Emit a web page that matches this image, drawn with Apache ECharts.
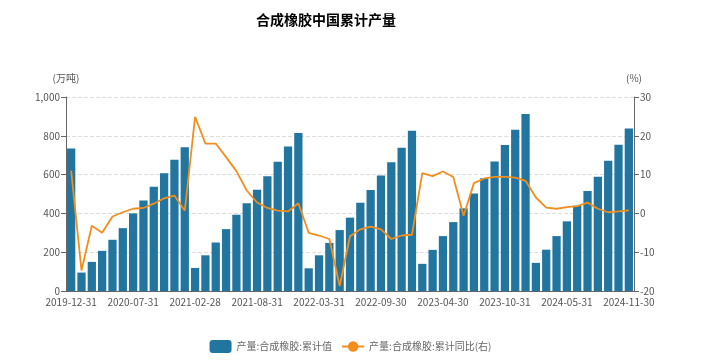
<!DOCTYPE html>
<html><head><meta charset="utf-8">
<script src="https://cdn.jsdelivr.net/npm/echarts@6/dist/echarts.min.js"></script>
<style>html,body{margin:0;padding:0;background:#fff}#c{width:701px;height:363px}</style>
</head><body><div id="c"></div>
<script>
const categories = ["2019-12-31","2020-02-29","2020-03-31","2020-04-30","2020-05-31","2020-06-30","2020-07-31","2020-08-31","2020-09-30","2020-10-31","2020-11-30","2020-12-31",
"2021-02-28","2021-03-31","2021-04-30","2021-05-31","2021-06-30","2021-07-31","2021-08-31","2021-09-30","2021-10-31","2021-11-30","2021-12-31",
"2022-02-28","2022-03-31","2022-04-30","2022-05-31","2022-06-30","2022-07-31","2022-08-31","2022-09-30","2022-10-31","2022-11-30","2022-12-31",
"2023-02-28","2023-03-31","2023-04-30","2023-05-31","2023-06-30","2023-07-31","2023-08-31","2023-09-30","2023-10-31","2023-11-30","2023-12-31",
"2024-02-29","2024-03-31","2024-04-30","2024-05-31","2024-06-30","2024-07-31","2024-08-31","2024-09-30","2024-10-31","2024-11-30"];
const cumValue = [734,95,150,207,264,324,400,466,538,607,676,741,
119,184,250,319,393,452,522,591,666,745,814,
117,184,248,314,378,455,521,595,664,738,826,
140,212,283,355,426,502,581,667,752,831,912,
145,213,283,359,440,515,589,671,754,837];
const cumYoY = [11.0,-14.7,-3.2,-5.0,-0.8,0.3,1.2,1.4,2.5,3.9,4.6,0.7,
24.9,18.0,18.0,14.5,10.9,5.9,2.8,1.4,0.7,0.5,2.6,
-5.0,-5.7,-6.6,-18.7,-5.9,-4.1,-3.4,-4.1,-6.6,-5.7,-5.5,
10.4,9.6,10.8,9.4,-0.6,7.8,9.0,9.4,9.4,9.2,8.4,
4.1,1.5,1.2,1.6,1.9,2.8,1.2,0.3,0.5,0.8];
const leftTicks = {min:0,max:1000,interval:200};
const rightTicks = {min:-20,max:30,interval:10};

const font = '"Noto Sans CJK SC", "Noto Sans", sans-serif';
const chart = echarts.init(document.getElementById('c'), null, {renderer:'canvas'});
chart.setOption({
  animation:false,
  textStyle:{fontFamily:font},
  title:{text:'合成橡胶中国累计产量', left:251, top:8,
    textStyle:{fontSize:14, fontWeight:'bold', color:'#000', fontFamily:font}},
  grid:{left:66, right:67, top:97, bottom:72},
  legend:{top:335, left:'center', itemWidth:22, itemHeight:13, itemGap:9,
    textStyle:{fontSize:10, color:'#666'},
    data:[{name:'产量:合成橡胶:累计值', icon:'roundRect'},{name:'产量:合成橡胶:累计同比(右)'}]},
  xAxis:{type:'category', data:categories,
    axisLine:{lineStyle:{color:'#666'}},
    axisTick:{interval:5, lineStyle:{color:'#666'}},
    axisLabel:{interval:5, color:'#555', fontSize:10, margin:6}},
  yAxis:[
    {type:'value', name:'(万吨)', nameGap:14, nameTextStyle:{color:'#555', fontSize:10, align:'center'},
     min:leftTicks.min, max:leftTicks.max, interval:leftTicks.interval,
     axisLine:{show:true, lineStyle:{color:'#666'}}, axisTick:{show:true},
     axisLabel:{color:'#555', fontSize:10, margin:6},
     splitLine:{lineStyle:{type:'dashed', color:'#ddd'}}},
    {type:'value', name:'(%)', nameGap:14, nameTextStyle:{color:'#555', fontSize:10, align:'center'},
     min:rightTicks.min, max:rightTicks.max, interval:rightTicks.interval,
     axisLine:{show:true, lineStyle:{color:'#666'}}, axisTick:{show:true},
     axisLabel:{color:'#555', fontSize:10, margin:6},
     splitLine:{show:false}}
  ],
  series:[
    {name:'产量:合成橡胶:累计值', type:'bar', data:cumValue, barCategoryGap:'20%',
     itemStyle:{color:'#21759f'}},
    {name:'产量:合成橡胶:累计同比(右)', type:'line', yAxisIndex:1, data:cumYoY,
     showSymbol:false, symbol:'circle', symbolSize:8,
     lineStyle:{color:'#f28e1e', width:1.8}, itemStyle:{color:'#f28e1e'}}
  ]
});
</script></body></html>
